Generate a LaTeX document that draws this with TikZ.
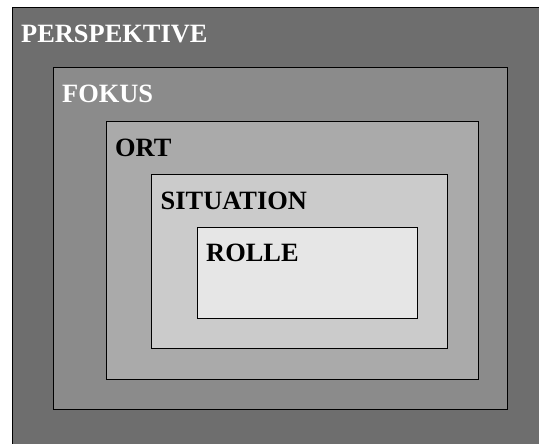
\documentclass[tikz,border=0pt]{standalone}
\usepackage{fontspec}
\setmainfont{Liberation Serif}

\definecolor{perspgray}{gray}{0.431}
\definecolor{fokusgray}{gray}{0.545}
\definecolor{ortgray}{gray}{0.667}
\definecolor{situgray}{gray}{0.796}
\definecolor{rollegray}{gray}{0.902}

\begin{document}
\begin{tikzpicture}[x=1pt,y=-1pt]

%\namedlayer{name}{text}{topleft}{bottomright}{fill}{textcolour}
\newcommand*{\namedlayer}[6]{%
	\draw [layer, fill=#5] (#3) rectangle (#4);
	\node [layername, text=#6] (#1) at ([shift={(9,34.5)}]#3) {#2};
}

\tikzset{%
    layer/.style={draw=black,line width=1pt},
    layername/.style={anchor=base west,inner sep=0pt,font=\bfseries\fontsize{26.4}{30}\selectfont},
}

\useasboundingbox (0,0) rectangle (539,444);
\fill [white] (0,0) rectangle (539,444);
\clip (0,0) rectangle (539,444);

% outer layer runs off the right and bottom edge
\namedlayer{perspektive}{PERSPEKTIVE}{12,8}{548,452}{perspgray}{white}
\namedlayer{fokus}{FOKUS}{53,68}{507,409}{fokusgray}{white}
\namedlayer{ort}{ORT}{106,122}{478,379}{ortgray}{black}
\namedlayer{situation}{SITUATION}{151.5,174.5}{447,348}{situgray}{black}
\namedlayer{rolle}{ROLLE}{197,227}{417,318}{rollegray}{black}

\end{tikzpicture}
\end{document}
